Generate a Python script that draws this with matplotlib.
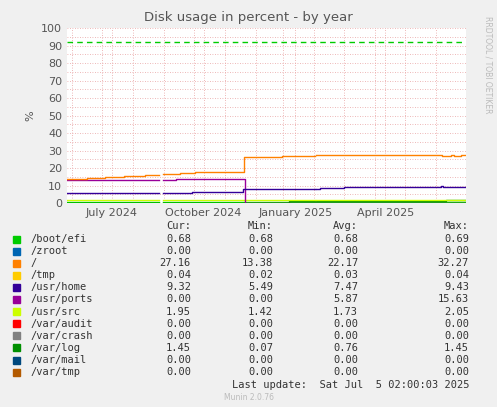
import numpy as np
import matplotlib
matplotlib.use('Agg')
import matplotlib.pyplot as plt

# days since start (~27 May 2024); NaN marks data gaps
gap1 = (92, 96)
gap2 = (249, 250)

# step series: list of (start_day, value)
root_steps = [(0, 13.5), (20, 14.3), (38, 14.8), (57, 15.3), (78, 16.0), (96, 16.5), (113, 17.0),
              (128, 17.5), (174, 17.5), (177, 26.3), (216, 26.8), (250, 27.3), (376, 26.8),
              (385, 27.3), (388, 26.8), (395, 27.2)]
ports_steps = [(0, 13.0), (109, 13.5), (175, 13.5), (178, 0.0)]
home_steps = [(0, 5.5), (125, 6.2), (175, 6.2), (176, 7.8), (253, 7.8), (254, 8.3), (278, 9.0),
              (375, 9.7), (377, 9.2)]
src_steps = [(0, 1.5)]
efi_steps = [(0, 0.68)]
log_steps = [(0, 0.1), (223, 0.9), (380, 1.45)]
warning = 92

names = ['/boot/efi', '/zroot', '/', '/tmp', '/usr/home', '/usr/ports', '/usr/src',
         '/var/audit', '/var/crash', '/var/log', '/var/mail', '/var/tmp']
colors = ['#00CC00', '#0066B3', '#FF8000', '#FFCC00', '#330099', '#990099', '#CCFF00',
          '#FF0000', '#808080', '#008F00', '#00487D', '#B35A00']
cur = ['0.68', '0.00', '27.16', '0.04', '9.32', '0.00', '1.95', '0.00', '0.00', '1.45', '0.00', '0.00']
mins = ['0.68', '0.00', '13.38', '0.02', '5.49', '0.00', '1.42', '0.00', '0.00', '0.07', '0.00', '0.00']
avgs = ['0.68', '0.00', '22.17', '0.03', '7.47', '5.87', '1.73', '0.00', '0.00', '0.76', '0.00', '0.00']
maxs = ['0.69', '0.00', '32.27', '0.04', '9.43', '15.63', '2.05', '0.00', '0.00', '1.45', '0.00', '0.00']

N = 400
days = np.arange(N)


def build(steps):
    y = np.zeros(N)
    for s, v in steps:
        y[s:] = v
    y[gap1[0]:gap1[1]] = np.nan
    y[gap2[0]:gap2[1]] = np.nan
    return y


W, H = 497, 407
fig = plt.figure(figsize=(W / 100, H / 100), dpi=100, facecolor='#F0F0F0')
ax = fig.add_axes([67 / W, 1 - 203 / H, 399 / W, 175 / H], facecolor='white')

series = {2: root_steps, 5: ports_steps, 4: home_steps, 6: src_steps, 0: efi_steps, 9: log_steps}
for i in [0, 9, 6, 5, 4, 2]:
    ax.step(days, build(series[i]), where='post', color=colors[i], lw=1)
ax.axhline(warning, color='#00CC00', lw=1, ls=(0, (4, 3)))

ax.set_xlim(0, N)
ax.set_ylim(0, 100)
ax.set_yticks(range(0, 101, 10))
ax.set_yticks(range(0, 101, 5), minor=True)
months = [5, 35, 66, 97, 127, 158, 189, 217, 248, 278, 309, 339, 370]
ax.set_xticks(months, minor=True)
ax.set_xticks([45, 137, 229, 319])
ax.set_xticklabels(['July 2024', 'October 2024', 'January 2025', 'April 2025'])
ax.grid(which='both', color='#E8A0A0', ls=(0, (1, 2)), lw=0.6)
ax.tick_params(which='both', length=0, labelsize=8, colors='#555555')
for s in ax.spines.values():
    s.set_visible(False)
ax.set_ylabel('%', fontsize=8, color='#555555')

fig.text(0.5, 1 - 18 / H, 'Disk usage in percent - by year', ha='center', va='center',
         fontsize=9.5, color='#555555')
fig.text(488 / W, 1 - 65 / H, 'RRDTOOL / TOBI OETIKER', rotation=270, ha='center', va='center',
         fontsize=5.5, color='#BBBBBB')

mono = dict(family='DejaVu Sans Mono', fontsize=7.5, color='#333333', va='center')
fig.text(191 / W, 1 - 226 / H, 'Cur:', ha='right', **mono)
fig.text(273 / W, 1 - 226 / H, 'Min:', ha='right', **mono)
fig.text(358 / W, 1 - 226 / H, 'Avg:', ha='right', **mono)
fig.text(469 / W, 1 - 226 / H, 'Max:', ha='right', **mono)
for k in range(len(names)):
    yy = 1 - (239 + k * 12.1) / H
    fig.patches.append(plt.Rectangle((13 / W, yy - 3.5 / H), 7 / W, 7 / H, color=colors[k],
                                     transform=fig.transFigure))
    fig.text(30 / W, yy, names[k], ha='left', **mono)
    fig.text(191 / W, yy, cur[k], ha='right', **mono)
    fig.text(273 / W, yy, mins[k], ha='right', **mono)
    fig.text(358 / W, yy, avgs[k], ha='right', **mono)
    fig.text(469 / W, yy, maxs[k], ha='right', **mono)
fig.text(469 / W, 1 - 385 / H, 'Last update:  Sat Jul  5 02:00:03 2025', ha='right', **mono)
fig.text(0.5, 1 - 397 / H, 'Munin 2.0.76', ha='center', va='center', fontsize=5.5, color='#BBBBBB')

fig.savefig('out.png', dpi=100, facecolor=fig.get_facecolor())
